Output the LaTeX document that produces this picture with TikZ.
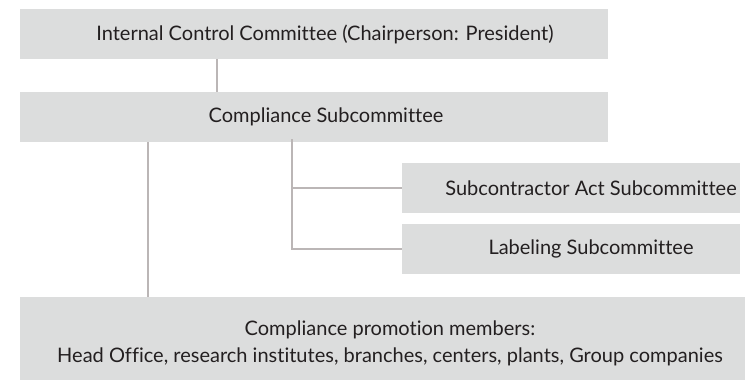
\documentclass[tikz,border=0pt]{standalone}
\usepackage{fontspec}
\setmainfont{Lato}[Ligatures=NoCommon]
\definecolor{boxgray}{HTML}{DCDDDD}
\definecolor{linegray}{HTML}{BBB6B6}
\definecolor{ink}{HTML}{231F20}
\begin{document}
\begin{tikzpicture}[x=1pt,y=-1pt,
  panel/.style={fill=boxgray, draw=none, inner sep=0pt, rectangle,
    minimum width=#1},
  caption/.style={text=ink, font=\fontsize{20}{27}\selectfont, inner sep=0pt, align=center},
  conn/.style={draw=linegray, line width=2pt}]
\useasboundingbox (0,0) rectangle (745,380);

% boxes
\node[panel=588pt, minimum height=50pt] (b1) at (314,34) {};
\node[panel=588pt, minimum height=50pt] (b2) at (314,117) {};
\node[panel=338pt, minimum height=50pt] (b3) at (571,188) {};
\node[panel=338pt, minimum height=50pt] (b4) at (571,249) {};
\node[panel=725pt, minimum height=84pt] (b5) at (382.5,339) {};

% texts
\node[caption] (t1) at (325,34) {Internal Control Committee (Chairperson: President)};
\node[caption] (t2) at (326,117) {Compliance Subcommittee};
\node[caption] (t3) at (591,188) {Subcontractor Act Subcommittee};
\node[caption] (t4) at (591,249) {Labeling Subcommittee};
\node[caption] (t5) at (390,343.5) {Compliance promotion members:\\Head Office, research institutes, branches, centers, plants, Group companies};

% connectors
\draw[conn] ([xshift=197pt]b1.south west) -- ([xshift=197pt]b2.north west);
\draw[conn] ([xshift=128pt]b2.south west) -- ([xshift=128pt]b5.north west);
\coordinate (br) at ([xshift=272pt,yshift=3pt]b2.south west);
\draw[conn] (br) |- (b4.west);
\draw[conn] (br |- b3.west) -- (b3.west);
\end{tikzpicture}
\end{document}
